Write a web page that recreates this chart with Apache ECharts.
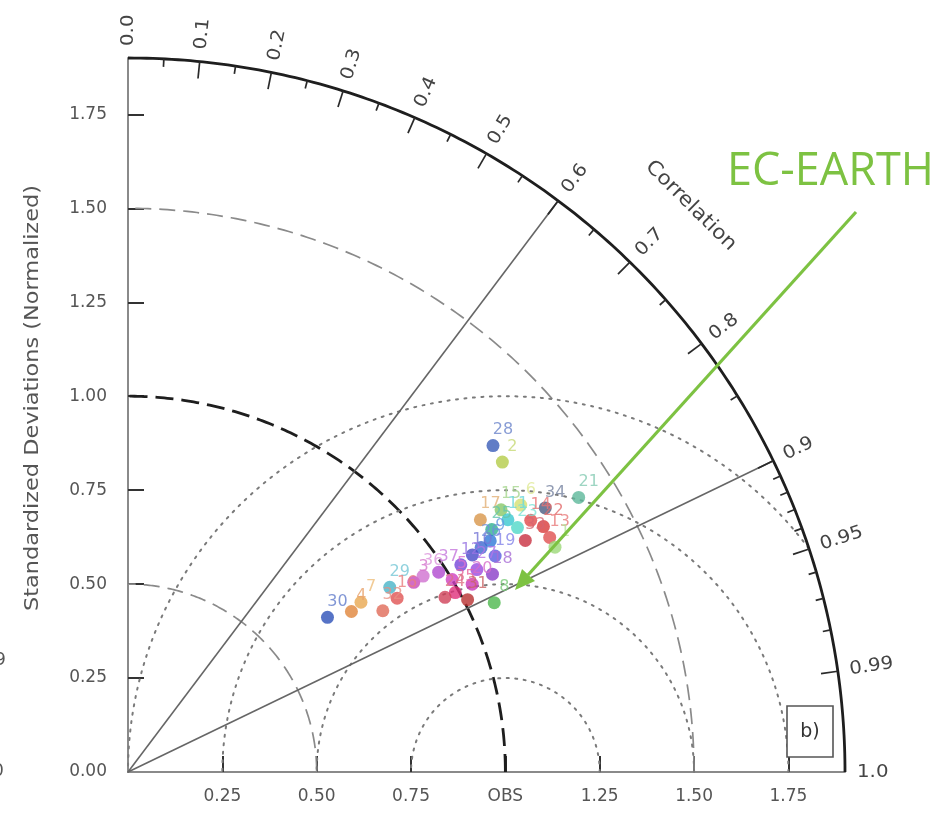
<!DOCTYPE html>
<html>
<head>
<meta charset="utf-8">
<script src="https://cdn.jsdelivr.net/npm/echarts@6/dist/echarts.min.js"></script>
<style>
  html, body { margin: 0; padding: 0; background: #ffffff; }
  #chart { width: 939px; height: 818px; }
</style>
</head>
<body>
<div id="chart"></div>
<script>
// Taylor diagram: normalized standard deviation (radius) against correlation (angle)
const SD_MAX = 1.9;
const sdTickValues = [0.25, 0.5, 0.75, 1.0, 1.25, 1.5, 1.75];
const sdLabelValuesY = [0, 0.25, 0.5, 0.75, 1.0, 1.25, 1.5, 1.75];
const corrMajor = [0, 0.1, 0.2, 0.3, 0.4, 0.5, 0.6, 0.7, 0.8, 0.9, 0.95, 0.99, 1.0];
const corrMinor = [0.05, 0.15, 0.25, 0.35, 0.45, 0.55, 0.65, 0.75, 0.85,
                   0.91, 0.92, 0.93, 0.94, 0.96, 0.97, 0.98];
const sdArcs = [0.5, 1.0, 1.5];          // dashed arcs about the origin
const rmsArcs = [0.25, 0.5, 0.75, 1.0];  // dotted arcs about OBS
const corrLines = [0.6, 0.9];            // radial guide lines

// Models
const modelLabels = ['28', '2', '34', '21', '17', '15', '11', '23', '25', '14',
                     '22', '13', '33', '9', '26', '10', '19', '12', '27', '18',
                     '5', '20', '35', '31', '8', '30', '4', '7', '32', '29',
                     '16', '3', '36', '24', '1', '6', '37'];
const modelSD = [1.30, 1.29, 1.31, 1.40, 1.15, 1.21, 1.21, 1.22, 1.16, 1.26,
                 1.28, 1.28, 1.22, 1.14, 1.11, 1.08, 1.13, 1.04, 1.07, 1.10,
                 1.00, 1.04, 0.99, 1.01, 1.07, 0.67, 0.73, 0.765, 0.80, 0.85,
                 0.85, 0.91, 0.94, 0.96, 1.28, 1.26, 0.98];
const modelCorr = [0.744, 0.769, 0.844, 0.853, 0.812, 0.817, 0.832, 0.846, 0.831, 0.847,
                   0.860, 0.873, 0.863, 0.842, 0.843, 0.845, 0.861, 0.848, 0.864, 0.878,
                   0.859, 0.877, 0.876, 0.891, 0.907, 0.789, 0.811, 0.807, 0.844, 0.816,
                   0.839, 0.832, 0.832, 0.875, 0.884, 0.826, 0.840];
const modelColors = ['#3a5cb8', '#b4cc48', '#4a5a80', '#5cb89a', '#d8964a', '#88c868', '#38c8d0', '#50d8c8', '#30b090', '#e04848',
                     '#d83a3a', '#e05050', '#c83040', '#2f78d8', '#3c68d0', '#4848c8', '#5a5ae0', '#7444d8', '#9a48e0', '#8a3cc8',
                     '#d040c0', '#c838b8', '#e0307a', '#b83030', '#4cb84c', '#2c50b8', '#e0843a', '#e8a850', '#e06a58', '#48b4c8',
                     '#e05252', '#c848b8', '#d070d0', '#d04058', '#9cd878', '#d4e070', '#b048d0'];

const FONT = 'DejaVu Sans';

function lighten(hex, t) {
  const n = parseInt(hex.slice(1), 16);
  const r = (n >> 16) & 255, g = (n >> 8) & 255, b = n & 255;
  const m = c => Math.round(c + (255 - c) * t);
  return 'rgb(' + m(r) + ',' + m(g) + ',' + m(b) + ')';
}

function corrText(v) {
  return (Math.round(v * 100) % 10 === 0) ? v.toFixed(1) : v.toFixed(2);
}

// Frame of the diagram: arcs, radial lines, correlation ticks and labels
function renderFrame(params, api) {
  const o = api.coord([0, 0]);
  const polar = (r, deg) => {
    const a = deg * Math.PI / 180;
    return api.coord([r * Math.cos(a), r * Math.sin(a)]);
  };
  const children = [];

  // std-dev arcs about the origin
  sdArcs.forEach(r => {
    const pts = [];
    for (let i = 0; i <= 180; i++) pts.push(polar(r, i * 0.5));
    const obs = r === 1.0;
    children.push({
      type: 'polyline', shape: { points: pts },
      style: { fill: null, stroke: obs ? '#1e1e1e' : '#8a8a8a', lineWidth: obs ? 2.8 : 1.7,
               lineDash: obs ? [18, 8] : [16, 8] }
    });
  });

  // centred-RMS arcs about OBS, kept inside the outer arc
  rmsArcs.forEach(rr => {
    let seg = [];
    const segs = [];
    for (let i = 0; i <= 360; i++) {
      const a = i * 0.5 * Math.PI / 180;
      const x = 1 + rr * Math.cos(a), y = rr * Math.sin(a);
      if (x >= 0 && x * x + y * y <= SD_MAX * SD_MAX) {
        seg.push(api.coord([x, y]));
      } else if (seg.length) { segs.push(seg); seg = []; }
    }
    if (seg.length) segs.push(seg);
    segs.forEach(s => children.push({
      type: 'polyline', shape: { points: s },
      style: { fill: null, stroke: '#7a7a7a', lineWidth: 2, lineDash: [2, 6.5], lineCap: 'round' }
    }));
  });

  // radial correlation lines
  corrLines.forEach(c => {
    const p = polar(SD_MAX, Math.acos(c) * 180 / Math.PI);
    children.push({
      type: 'line', shape: { x1: o[0], y1: o[1], x2: p[0], y2: p[1] },
      style: { stroke: '#666666', lineWidth: 1.6 }
    });
  });

  // outer arc
  const outer = [];
  for (let i = 0; i <= 180; i++) outer.push(polar(SD_MAX, i * 0.5));
  children.push({
    type: 'polyline', shape: { points: outer },
    style: { fill: null, stroke: '#1e1e1e', lineWidth: 2.8 }
  });

  // ticks and labels on the correlation arc
  const tick = (c, len) => {
    const deg = Math.acos(c) * 180 / Math.PI;
    const p = polar(SD_MAX, deg);
    const dx = p[0] - o[0], dy = p[1] - o[1];
    const L = Math.hypot(dx, dy);
    const ux = dx / L, uy = dy / L;
    children.push({
      type: 'line', shape: { x1: p[0], y1: p[1], x2: p[0] - ux * len, y2: p[1] - uy * len },
      style: { stroke: '#2a2a2a', lineWidth: 1.7 }
    });
    return { p, ux, uy };
  };
  corrMinor.forEach(c => tick(c, 8));
  corrMajor.forEach(c => {
    const t = (c === 0 || c === 1) ? { p: polar(SD_MAX, Math.acos(c) * 180 / Math.PI) } : tick(c, 17);
    const p = t.p;
    const dx = p[0] - o[0], dy = p[1] - o[1];
    const L = Math.hypot(dx, dy);
    const gap = 12;
    children.push({
      type: 'text',
      x: p[0] + dx / L * gap, y: p[1] + dy / L * gap,
      rotation: Math.atan2(-dy, dx),
      scaleX: 1.1,
      style: { text: corrText(c), x: 0, y: 0, align: 'left', verticalAlign: 'middle',
               fontFamily: FONT, fontSize: 18, fill: '#444444' }
    });
  });

  // axis title along the arc
  const tp = polar(2.12, 45.3);
  children.push({
    type: 'text', x: tp[0], y: tp[1], rotation: -44.7 * Math.PI / 180, scaleX: 1.08,
    style: { text: 'Correlation', x: 0, y: 0, align: 'center', verticalAlign: 'middle',
             fontFamily: FONT, fontSize: 20, fill: '#444444' }
  });

  return { type: 'group', children };
}

const points = modelSD.map((s, i) => {
  const r = modelCorr[i];
  return {
    name: modelLabels[i],
    value: [s * r, s * Math.sqrt(1 - r * r)],
    itemStyle: { color: modelColors[i] },
    label: { color: lighten(modelColors[i], 0.25) }
  };
});

const chart = echarts.init(document.getElementById('chart'), null, { renderer: 'canvas' });

chart.setOption({
  animation: false,
  backgroundColor: '#ffffff',
  textStyle: { fontFamily: FONT },
  grid: { left: 128, top: 58, width: 717, height: 714, containLabel: false, outerBoundsMode: 'none' },
  xAxis: {
    type: 'value', min: 0, max: SD_MAX, interval: 0.25,
    axisLine: { show: true, lineStyle: { color: '#8a8a8a', width: 2 } },
    axisTick: { show: true, inside: true, length: 16, customValues: sdTickValues,
                lineStyle: { color: '#333333', width: 2 } },
    axisLabel: { customValues: sdTickValues, margin: 16, fontFamily: FONT, fontSize: 17, color: '#555555',
                 formatter: v => (v === 1 ? 'OBS' : v.toFixed(2)) },
    splitLine: { show: false }
  },
  yAxis: {
    type: 'value', min: 0, max: SD_MAX, interval: 0.25,
    axisLine: { show: true, lineStyle: { color: '#8a8a8a', width: 2 } },
    axisTick: { show: true, inside: true, length: 16, customValues: sdTickValues,
                lineStyle: { color: '#333333', width: 2 } },
    axisLabel: { customValues: sdLabelValuesY, margin: 21, fontFamily: FONT, fontSize: 17, color: '#555555',
                 formatter: v => v.toFixed(2) },
    splitLine: { show: false }
  },
  series: [
    {
      type: 'custom', silent: true, clip: false, z: 1,
      data: [[0, 0]],
      renderItem: renderFrame
    },
    {
      type: 'scatter', z: 3, symbol: 'circle', symbolSize: 13,
      data: points,
      label: { show: true, position: 'top', distance: 1, offset: [10, 0],
               formatter: '{b}', fontFamily: FONT, fontSize: 16 }
    }
  ],
  graphic: [
    { type: 'text', x: 33, y: 398, rotation: Math.PI / 2, scaleX: 1.18,
      style: { text: 'Standardized Deviations (Normalized)', align: 'center', verticalAlign: 'middle',
               fontFamily: FONT, fontSize: 19, fill: '#555555' } },
    { type: 'text', x: -5, y: 661, style: { text: '9', align: 'left', verticalAlign: 'middle', fontFamily: FONT, fontSize: 17, fill: '#555' } },
    { type: 'text', x: -7, y: 772, style: { text: '0', align: 'left', verticalAlign: 'middle', fontFamily: FONT, fontSize: 17, fill: '#555' } },
    { type: 'rect', z: 10, shape: { x: 787, y: 706, width: 46, height: 51 },
      style: { fill: '#ffffff', stroke: '#555555', lineWidth: 1.6 } },
    { type: 'text', z: 11, x: 810, y: 732,
      style: { text: 'b)', align: 'center', verticalAlign: 'middle', fontFamily: FONT, fontSize: 19, fill: '#333333' } },
    { type: 'text', z: 50, x: 727, y: 172,
      style: { text: 'EC-EARTH', align: 'left', verticalAlign: 'middle', fontFamily: 'Open Sans', fontSize: 45, fill: '#7dc242' } },
    { type: 'line', z: 50, shape: { x1: 856, y1: 212, x2: 528, y2: 575 },
      style: { stroke: '#7dc242', lineWidth: 3.2 } },
    { type: 'polygon', z: 50, shape: { points: [[515, 590], [535, 581], [522, 569]] },
      style: { fill: '#7dc242' } }
  ]
});
</script>
</body>
</html>
